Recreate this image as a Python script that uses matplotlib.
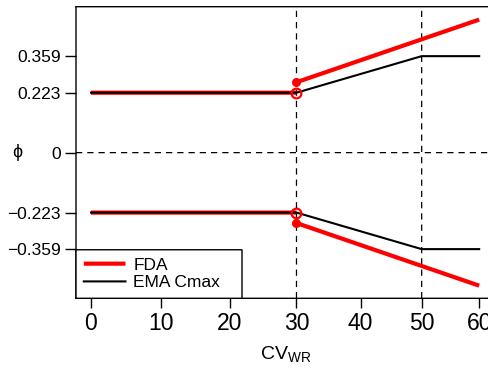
import numpy as np
import matplotlib
matplotlib.use("Agg")
import matplotlib.pyplot as plt

plt.rcParams.update({
    "font.family": ["Liberation Sans", "DejaVu Sans"],
    "mathtext.fontset": "custom",
    "mathtext.rm": "Liberation Sans",
    "mathtext.it": "Liberation Sans",
    "axes.linewidth": 1.0,
    "path.snap": False,
})
RED, INK = "#ff0000", "#000000"

# ---------------------------------------------------------------- data
ema_cv = [0, 30, 50, 60]
ema_phi = [0.223, 0.223, 0.359, 0.359]
fda_flat_cv = [0, 30]
fda_flat_phi = [0.223, 0.223]
fda_scaled_cv = [30, 60]
fda_scaled_phi = [0.262, 0.495]
ref_cv = [30, 50]
xticks = [0, 10, 20, 30, 40, 50, 60]
yticks = [-0.359, -0.223, 0, 0.223, 0.359]
ylabels = ["\u22120.359", "\u22120.223", "0", "0.223", "0.359"]


# x axis is linear in s_WR, ticks labelled as CV (%)
def fwd(x):
    x = np.asarray(x, dtype=float)
    return np.sign(x) * np.sqrt(np.log1p((x / 100.0) ** 2))


def inv(s):
    s = np.asarray(s, dtype=float)
    return np.sign(s) * 100.0 * np.sqrt(np.expm1(s ** 2))


fig = plt.figure(figsize=(4.89, 3.70), dpi=100)
ax = fig.add_axes([76 / 489, 1 - 298.3 / 370, 418.7 / 489, 291.6 / 370])
ax.set_xscale("function", functions=(fwd, inv))
ax.set_xlim(float(inv(-0.0214)), float(inv(0.5767)))
ax.set_ylim(-0.542, 0.543)

dash = dict(color=INK, lw=0.9, dashes=(5, 4), zorder=1)
ax.axhline(0, **dash)
for c in ref_cv:
    ax.axvline(c, **dash)

for sgn in (1, -1):
    ax.plot(fda_flat_cv, [sgn * v for v in fda_flat_phi], color=RED, lw=3.0,
            solid_capstyle="butt", zorder=2,
            label="FDA" if sgn == 1 else None)
    ax.plot(fda_scaled_cv, [sgn * v for v in fda_scaled_phi], color=RED,
            lw=3.0, solid_capstyle="butt", zorder=2)
    ax.plot(ema_cv, [sgn * v for v in ema_phi], color=INK, lw=1.5, zorder=3,
            label="EMA Cmax" if sgn == 1 else None)
    ax.plot([fda_scaled_cv[0]], [sgn * fda_scaled_phi[0]], "o", color=RED,
            ms=5.5, zorder=4)
    ax.plot([fda_flat_cv[-1]], [sgn * fda_flat_phi[-1]], "o", mfc="none",
            mec=RED, mew=1.6, ms=7, zorder=4)

ax.set_xticks(xticks)
ax.set_xticklabels([str(t) for t in xticks], fontsize=16.5)
ax.set_yticks(yticks)
ax.set_yticklabels(ylabels, fontsize=12.5)
ax.xaxis.set_minor_locator(matplotlib.ticker.NullLocator())
ax.tick_params(axis="x", length=7, width=1.0, pad=3)
ax.tick_params(axis="y", length=8, width=1.0, pad=3)

ax.set_xlabel("CV$_{\\mathrm{WR}}$", fontsize=14, labelpad=6)
fig.text(17 / 489, 1 - 152.7 / 370, "\u03d5", fontsize=13, ha="center",
         va="center")

leg = ax.legend(loc="lower left", bbox_to_anchor=(0, 0, 166 / 418.7, 0.17),
                mode="expand", borderaxespad=0, fontsize=12.5,
                handlelength=2.4, handletextpad=0.45, labelspacing=0.15,
                borderpad=0.45, fancybox=False, framealpha=1)
leg.get_frame().set_edgecolor(INK)
leg.get_frame().set_linewidth(1.0)

fig.savefig("out.png", dpi=100)
